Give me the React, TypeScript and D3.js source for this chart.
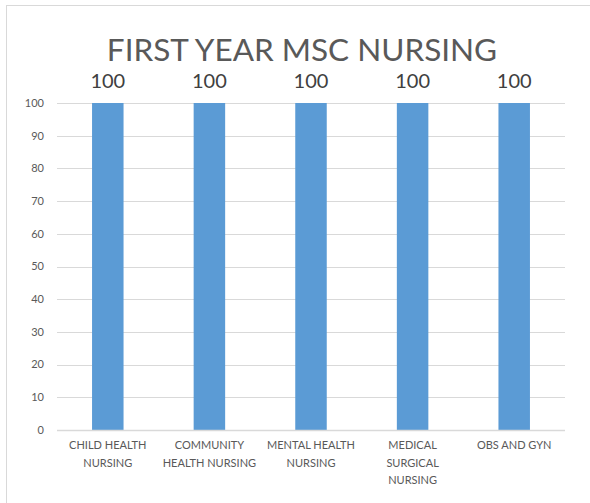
import React from "react";
import * as d3 from "d3";

const categories: string[][] = [
  ["CHILD HEALTH", "NURSING"],
  ["COMMUNITY", "HEALTH NURSING"],
  ["MENTAL HEALTH", "NURSING"],
  ["MEDICAL", "SURGICAL", "NURSING"],
  ["OBS AND GYN"],
];
const values: number[] = [100, 100, 100, 100, 100];
const yTicks: number[] = [0, 10, 20, 30, 40, 50, 60, 70, 80, 90, 100];
const title = "FIRST YEAR MSC NURSING";

const W = 590;
const H = 503;
const plot = { left: 57, right: 565, top: 103, bottom: 430 };
const font = "Lato, 'Open Sans', 'DejaVu Sans', sans-serif";

export default function App() {
  const x = d3
    .scaleBand<number>()
    .domain(d3.range(values.length))
    .range([plot.left, plot.right])
    .paddingInner(0.69)
    .paddingOuter(0.345);
  const y = d3.scaleLinear().domain([0, 100]).range([plot.bottom, plot.top]);
  const band = (plot.right - plot.left) / values.length;

  return (
    <svg
      width={W}
      height={H}
      style={{ position: "absolute", left: 0, top: 0, background: "#fff" }}
      fontFamily={font}
    >
      <rect x={6.5} y={5.5} width={W + 10} height={H + 10} fill="#fff" stroke="#d9d9d9" strokeWidth={1} />
      <text x={302} y={61} textAnchor="middle" fontSize={31.5} fill="#595959">
        {title}
      </text>
      {yTicks.map((t) => (
        <g key={t}>
          <line x1={plot.left} x2={plot.right} y1={Math.round(y(t)) + 0.5} y2={Math.round(y(t)) + 0.5} stroke="#d9d9d9" strokeWidth={1} />
          <text x={44} y={y(t)} dy="0.35em" textAnchor="end" fontSize={11} fill="#595959">
            {t}
          </text>
        </g>
      ))}
      {values.map((v, i) => (
        <g key={i}>
          <rect x={x(i)} y={y(v)} width={x.bandwidth()} height={y(0) - y(v)} fill="#5B9BD5" />
          <text x={(x(i) as number) + x.bandwidth() / 2} y={y(v) - 15} textAnchor="middle" fontSize={20} fill="#404040">
            {v}
          </text>
        </g>
      ))}
      <line x1={plot.left} x2={plot.right} y1={Math.round(y(0)) + 0.5} y2={Math.round(y(0)) + 0.5} stroke="#d9d9d9" strokeWidth={1.5} />
      {categories.map((lines, i) => (
        <text key={i} x={plot.left + band * (i + 0.5)} y={449} textAnchor="middle" fontSize={11} fill="#595959">
          {lines.map((l, j) => (
            <tspan key={j} x={plot.left + band * (i + 0.5)} dy={j === 0 ? 0 : 17.5}>
              {l}
            </tspan>
          ))}
        </text>
      ))}
    </svg>
  );
}
